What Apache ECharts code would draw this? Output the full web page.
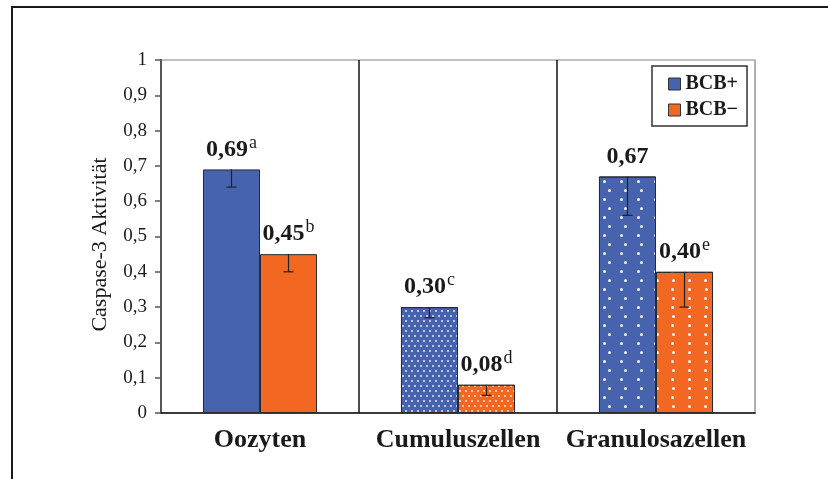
<!DOCTYPE html>
<html>
<head>
<meta charset="utf-8">
<script src="https://cdn.jsdelivr.net/npm/echarts@6/dist/echarts.min.js"></script>
<style>
  html, body { margin: 0; padding: 0; background: #fff; }
  #chart { width: 828px; height: 479px; }
</style>
</head>
<body>
<div id="chart"></div>
<script>
// Caspase-3 activity per cell type, with and without BCB staining
const categories = ['Oozyten', 'Cumuluszellen', 'Granulosazellen'];
const bcbPlus = [0.69, 0.30, 0.67];
const bcbMinus = [0.45, 0.08, 0.40];
// lower error (standard deviation) drawn below each bar top
const bcbPlusErr = [0.05, 0.03, 0.11];
const bcbMinusErr = [0.05, 0.03, 0.10];
// significance letters
const bcbPlusMarks = ['a', 'c', ''];
const bcbMinusMarks = ['b', 'd', 'e'];
const yTicks = [0, 0.1, 0.2, 0.3, 0.4, 0.5, 0.6, 0.7, 0.8, 0.9, 1];

const BLUE = '#4763ae';
const ORANGE = '#f26722';
const BAR_FRAC = 0.288; // bar width as share of the category band
const SERIF = '"Liberation Serif", "Times New Roman", serif';

// fill patterns per cell type: plain, dense dots, sparse dots
const decals = [
  null,
  {
    symbol: 'circle', symbolSize: 1, color: 'rgba(255,255,255,0.85)',
    dashArrayX: [[1.6, 3.4], [0, 2.5, 1.6, 0.9]],
    dashArrayY: [1.6, 2.2]
  },
  {
    symbol: 'circle', symbolSize: 1, color: 'rgba(255,255,255,0.95)',
    dashArrayX: [[2.2, 12.8], [0, 7.5, 2.2, 5.3]],
    dashArrayY: [2.2, 5.4]
  }
];

const fmtNum = v => (v === 1 ? '1' : v === 0 ? '0' : v.toFixed(1).replace('.', ','));
const fmtVal = v => v.toFixed(2).replace('.', ',');

function barData(values, marks) {
  return values.map((v, i) => {
    const item = {
      value: v,
      label: {
        formatter: '{v|' + fmtVal(v) + '}' + (marks[i] ? '{s|' + marks[i] + '}' : '')
      }
    };
    if (decals[i]) item.itemStyle = { decal: decals[i] };
    return item;
  });
}

const labelRich = {
  v: { fontFamily: SERIF, fontWeight: 'bold', fontSize: 24, color: '#1a1a1a', lineHeight: 28 },
  s: { fontFamily: SERIF, fontWeight: 'normal', fontSize: 18, color: '#1a1a1a', padding: [0, 0, 13, 1], lineHeight: 28 }
};

function errorSeries(values, errs, side) {
  return {
    type: 'custom',
    silent: true,
    z: 5,
    data: values.map((v, i) => [i, v, v - errs[i]]),
    renderItem: function (params, api) {
      const band = api.size([1, 0])[0];
      const off = side * band * BAR_FRAC / 2;
      const top = api.coord([api.value(0), api.value(1)]);
      const low = api.coord([api.value(0), api.value(2)]);
      const x = top[0] + off;
      const style = { stroke: '#222', lineWidth: 1.2 };
      return {
        type: 'group',
        children: [
          { type: 'line', shape: { x1: x, y1: top[1], x2: x, y2: low[1] }, style },
          { type: 'line', shape: { x1: x - 5, y1: low[1], x2: x + 5, y2: low[1] }, style }
        ]
      };
    }
  };
}

const chart = echarts.init(document.getElementById('chart'), null, { renderer: 'canvas' });
chart.setOption({
  animation: false,
  backgroundColor: '#fff',
  graphic: [{
    type: 'polyline',
    shape: { points: [[12, 482], [12, 7], [830, 7]] },
    style: { stroke: '#1a1a1a', lineWidth: 2, fill: null }
  }],
  grid: {
    left: 161, top: 60, right: 73, bottom: 66,
    show: true, borderColor: '#aaa', borderWidth: 1.5
  },
  legend: {
    orient: 'vertical',
    left: 652, top: 66,
    padding: [8, 9, 6, 16],
    itemGap: 6,
    itemWidth: 12, itemHeight: 12,
    backgroundColor: '#fff',
    borderColor: '#333', borderWidth: 1.5,
    icon: 'rect',
    textStyle: { fontFamily: SERIF, fontWeight: 'bold', fontSize: 20, color: '#1a1a1a', lineHeight: 20 },
    itemStyle: { borderColor: '#333', borderWidth: 1 },
    data: ['BCB+', 'BCB\u2212']
  },
  xAxis: {
    type: 'category',
    data: categories,
    axisLine: { lineStyle: { color: '#111', width: 1.5 } },
    axisTick: { show: false, interval: 0 },
    axisLabel: {
      interval: 0,
      hideOverlap: false,
      margin: 14,
      fontFamily: SERIF, fontWeight: 'bold', fontSize: 26, color: '#1a1a1a'
    },
    splitLine: {
      show: true,
      interval: 0,
      lineStyle: { color: ['#555', '#111', '#111', '#aaa'], width: 1.5 }
    }
  },
  yAxis: {
    type: 'value',
    min: yTicks[0], max: yTicks[yTicks.length - 1], interval: 0.1,
    name: 'Caspase-3 Aktivität',
    nameLocation: 'middle',
    nameGap: 50,
    nameRotate: 90,
    nameTextStyle: { fontFamily: SERIF, fontSize: 22, color: '#1a1a1a', padding: [0, 16, 0, 0] },
    axisLine: { show: true, lineStyle: { color: '#555', width: 2 } },
    axisTick: { show: true, length: 6, lineStyle: { color: '#555', width: 1.5 } },
    axisLabel: {
      margin: 14,
      fontFamily: SERIF, fontSize: 19, color: '#1a1a1a',
      formatter: v => fmtNum(v)
    },
    splitLine: { show: false }
  },
  series: [
    {
      name: 'BCB+',
      type: 'bar',
      barWidth: (BAR_FRAC * 100) + '%',
      barGap: '0%',
      itemStyle: { color: BLUE, borderColor: '#2a2a2a', borderWidth: 1 },
      label: { show: true, position: 'top', distance: 6, rich: labelRich },
      data: barData(bcbPlus, bcbPlusMarks)
    },
    {
      name: 'BCB\u2212',
      type: 'bar',
      barWidth: (BAR_FRAC * 100) + '%',
      barGap: '0%',
      itemStyle: { color: ORANGE, borderColor: '#2a2a2a', borderWidth: 1 },
      label: { show: true, position: 'top', distance: 6, rich: labelRich },
      data: barData(bcbMinus, bcbMinusMarks)
    },
    errorSeries(bcbPlus, bcbPlusErr, -1),
    errorSeries(bcbMinus, bcbMinusErr, 1)
  ]
});
</script>
</body>
</html>
